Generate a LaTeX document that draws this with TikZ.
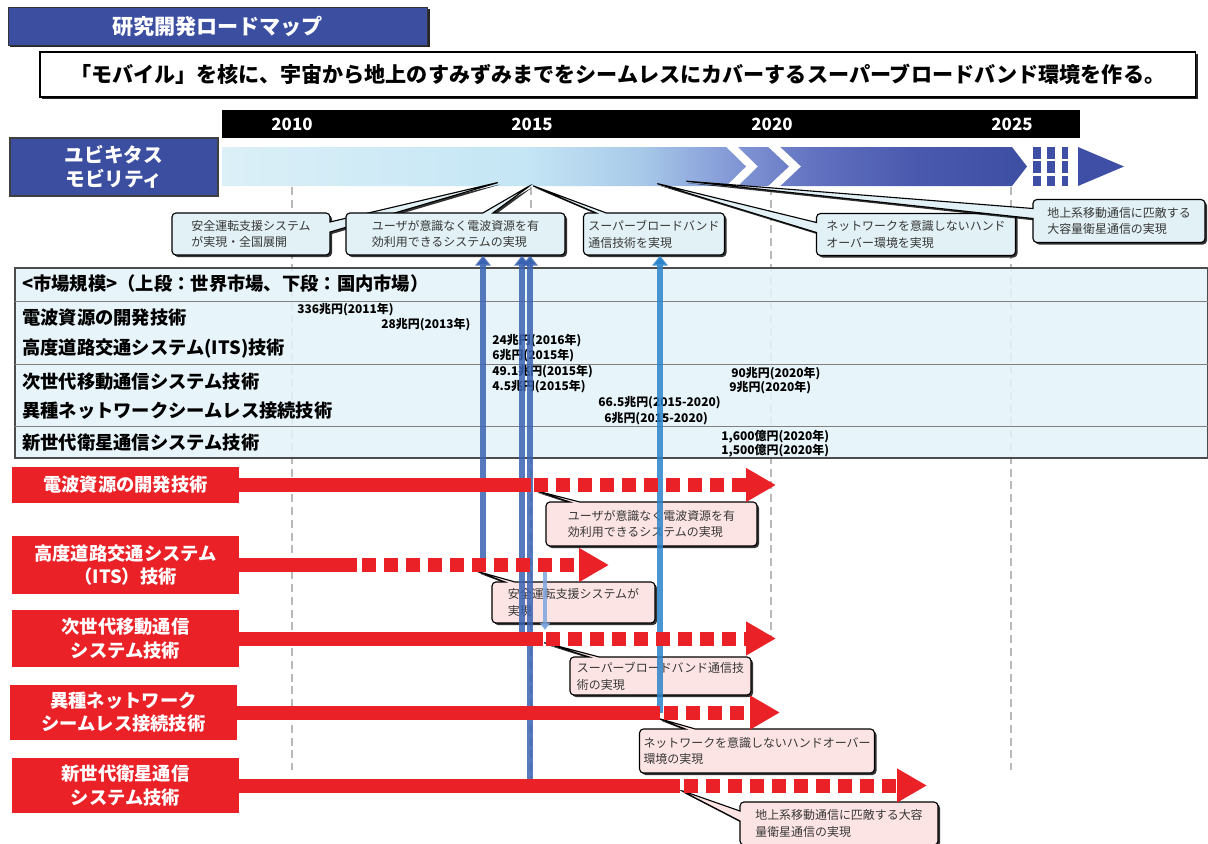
\documentclass[tikz,border=0pt]{standalone}
\usepackage{fontspec}
\setmainfont{Noto Sans CJK JP}
\usetikzlibrary{positioning}
\usetikzlibrary{shapes.callouts}
\usetikzlibrary{shadows}
\usetikzlibrary{arrows.meta}
\definecolor{titleblue}{RGB}{59,78,160}
\definecolor{marketbg}{RGB}{228,243,248}
\definecolor{noteblue}{RGB}{226,241,246}
\definecolor{notepink}{RGB}{253,228,228}
\definecolor{notetext}{RGB}{55,55,55}
\definecolor{techred}{RGB}{234,33,39}
\definecolor{linkblue}{RGB}{58,98,178}
\definecolor{linkcyan}{RGB}{44,132,202}
\definecolor{linklight}{RGB}{125,165,222}
\definecolor{bandend}{RGB}{62,79,165}
\pgfdeclarehorizontalshading{bandshade}{100bp}{%
  rgb(0bp)=(0.86,0.94,0.97);
  rgb(25bp)=(0.86,0.94,0.97);
  rgb(44bp)=(0.77,0.90,0.96);
  rgb(51bp)=(0.66,0.79,0.91);
  rgb(56bp)=(0.53,0.62,0.85);
  rgb(62bp)=(0.38,0.44,0.75);
  rgb(68bp)=(0.29,0.35,0.68);
  rgb(75bp)=(0.24,0.31,0.64);
  rgb(100bp)=(0.24,0.31,0.64)}
\newcommand\jpsize[2]{\fontsize{#1}{#2}\selectfont}

\begin{document}
\begin{tikzpicture}[
x=0.025cm, y=-0.025cm,
boxshadow/.style={drop shadow={shadow xshift=0.06cm,shadow yshift=-0.06cm,opacity=0.85,fill=black}},
titlebox/.style={anchor=north west, inner sep=0pt, outer sep=0pt, draw=black!80,
  fill=titleblue, text=white, font=\jpsize{15}{18}\bfseries, boxshadow},
mottobox/.style={anchor=north west, inner sep=0pt, outer sep=0pt, draw=black,
  line width=0.8pt, fill=white, font=\jpsize{15}{18}\bfseries, boxshadow},
yearlabel/.style={text=white, font=\jpsize{12}{14}\bfseries},
mobbox/.style={anchor=north west, inner sep=0pt, outer sep=0pt, draw=black!75,
  line width=1pt, fill=titleblue, text=white, align=center, font=\jpsize{14}{17}\bfseries},
chevron/.style={draw=white, line width=0.2cm, line join=miter},
gridline/.style={draw=gray!55, line width=0.06cm, dash pattern=on 0.2cm off 0.12cm},
marketbox/.style={anchor=north west, inner sep=0pt, outer sep=0pt, draw=black!70,
  line width=1.2pt, fill=marketbg, fill opacity=0.88},
rowsep/.style={draw=black!50, line width=0.6pt},
rowlabel/.style={anchor=west, inner sep=0pt, font=\jpsize{13}{15}\bfseries},
mktvalue/.style={anchor=west, inner sep=0pt, font=\jpsize{8.5}{10}\bfseries},
notebox/.style={rectangle callout, rounded corners=0.1cm, draw=black, line width=0.8pt,
  text=notetext, align=left, inner sep=0.1cm, font=\jpsize{8.5}{12},
  callout pointer width=0.25cm,
  drop shadow={shadow xshift=0.05cm,shadow yshift=-0.05cm,opacity=0.8,fill=black}},
topnote/.style={notebox, fill=noteblue},
lownote/.style={notebox, fill=notepink},
techbox/.style={anchor=north west, inner sep=0pt, outer sep=0pt, minimum width=5.675cm,
  fill=techred, text=white, align=center, font=\jpsize{13}{16.5}\bfseries},
techline/.style={draw=techred, line width=0.35cm},
techdash/.style={techline, dash pattern=on 0.35cm off 0.2cm,
  -{Triangle[length=0.75cm,width=0.8cm]}},
linkline/.style={draw=linkblue, line width=0.14cm, draw opacity=0.85,
  -{Triangle[length=0.25cm,width=0.38cm]}}
]
\useasboundingbox (0,0) rectangle (1208,843);

% heading
\node[titlebox, minimum width=10.475cm, minimum height=0.95cm] (title) at (8,7) {研究開発ロードマップ};
\node[mottobox, minimum width=28.875cm, minimum height=1.125cm] (motto) at (40,52)
  {「モバイル」を核に、宇宙から地上のすみずみまでをシームレスにカバーするスーパーブロードバンド環境を作る。};

% years
\fill[black] (222,110) rectangle (1080,138);
\foreach \yr [count=\i from 0] in {2010,2015,2020,2025}
  \node[yearlabel] (y\yr) at (292+240*\i,124) {\yr};

% ubiquitous mobility band
\node[mobbox, minimum width=5.2cm, minimum height=1.45cm] (mob) at (10,138) {ユビキタス\\モビリティ};
\shade[shading=bandshade] (222,147) -- (1012,147) -- (1027,166.5) -- (1012,186) -- (222,186) -- cycle;
\draw[chevron] (728,143) -- (752,166.5) -- (728,190);
\draw[chevron] (770,143) -- (795,166.5) -- (770,190);
\foreach \bx/\bw in {1037/0.2cm,1051/0.2cm,1065/0.15cm}
  \draw[draw=bandend, line width=\bw, dash pattern=on 0.3cm off 0.06cm] (\bx,147) -- (\bx,186);
\fill[bandend] (1078,147) -- (1124,166.5) -- (1078,186) -- cycle;

\foreach \gx/\gy in {292/770,531/778,771/640,1011/770}
  \draw[gridline] (\gx,187) -- (\gx,\gy);

% market size table
\node[marketbox, minimum width=29.825cm, minimum height=4.75cm] (market) at (15,268) {};
\foreach \sy in {301,364,426}
  \draw[rowsep] (15,\sy) -- (1208,\sy);
\node[rowlabel] (mhead) at (22,284) {<市場規模>（上段：世界市場、下段：国内市場）};
\node[rowlabel] (m1) at (22,318) {電波資源の開発技術};
\node[rowlabel] (m2) at (22,349) {高度道路交通システム(ITS)技術};
\node[rowlabel] (m3) at (22,382) {次世代移動通信システム技術};
\node[rowlabel] (m4) at (22,411) {異種ネットワークシームレス接続技術};
\node[rowlabel] (m5) at (22,443) {新世代衛星通信システム技術};
\node[mktvalue] (v1a) at (297,310) {336兆円(2011年)};
\node[mktvalue] (v1b) at (381,325) {28兆円(2013年)};
\node[mktvalue] (v2a) at (492,341) {24兆円(2016年)};
\node[mktvalue] (v2b) at (492,356) {6兆円(2015年)};
\node[mktvalue] (v3a) at (492,372) {49.1兆円(2015年)};
\node[mktvalue] (v3b) at (492,387) {4.5兆円(2015年)};
\node[mktvalue] (v3c) at (731,374) {90兆円(2020年)};
\node[mktvalue] (v3d) at (729,388) {9兆円(2020年)};
\node[mktvalue] (v4a) at (598,403) {66.5兆円(2015-2020)};
\node[mktvalue] (v4b) at (604,419) {6兆円(2015-2020)};
\node[mktvalue] (v5a) at (721,437) {1,600億円(2020年)};
\node[mktvalue] (v5b) at (721,451) {1,500億円(2020年)};

% goals on the band
\node[topnote, minimum width=3.95cm, minimum height=1.05cm, callout absolute pointer={(500,182)}]
  (c1) at (251,234) {安全運転支援システム\\が実現・全国展開};
\node[topnote, minimum width=5.475cm, minimum height=1.05cm, callout absolute pointer={(531,185)}]
  (c2) at (455.5,234) {ユーザが意識なく電波資源を有\\効利用できるシステムの実現};
\node[topnote, minimum width=3.525cm, minimum height=1.05cm, callout absolute pointer={(531,185)}]
  (c3) at (654,234) {スーパーブロードバンド\\通信技術を実現};
\node[topnote, minimum width=4.975cm, minimum height=1.05cm, callout absolute pointer={(655,183)}]
  (c4) at (916,234.5) {ネットワークを意識しないハンド\\オーバー環境を実現};
\node[topnote, minimum width=4.3cm, minimum height=1.075cm, callout absolute pointer={(684,181)}]
  (c5) at (1119,221) {地上系移動通信に匹敵する\\大容量衛星通信の実現};

% milestones of each technology
\node[lownote, minimum width=5.275cm, minimum height=1.1cm, callout absolute pointer={(533,490)}]
  (p1) at (651.5,524) {ユーザが意識なく電波資源を有\\効利用できるシステムの実現};
\node[lownote, minimum width=4.075cm, minimum height=1.025cm, callout absolute pointer={(476,571)}]
  (p2) at (573.5,602.5) {安全運転支援システムが\\実現};
\node[lownote, minimum width=4.525cm, minimum height=0.95cm, callout absolute pointer={(542,642)}]
  (p3) at (660.5,676) {スーパーブロードバンド通信技\\術の実現};
\node[lownote, minimum width=5.8cm, minimum height=1.1cm, callout absolute pointer={(657,718)}]
  (p4) at (757,751) {ネットワークを意識しないハンドオーバー\\環境の実現};
\node[lownote, minimum width=4.95cm, minimum height=1.075cm, callout absolute pointer={(680,790)}]
  (p5) at (839,823.5) {地上系移動通信に匹敵する大容\\量衛星通信の実現};

% links up to the goals
\coordinate (l1) at (483,565);
\coordinate (l2) at (522,638.5);
\coordinate (l3) at (530,785.5);
\coordinate (l4) at (660,712.5);
\coordinate (l5a) at (545,572);
\coordinate (l5b) at (545,630);
\draw[linkline] (l1) -- (l1 |- c2.south);
\draw[linkline] (l2) -- (l2 |- c2.south);
\draw[linkline] (l3) -- (l3 |- c2.south);
\draw[linkline, draw=linkcyan] (l4) -- (l4 |- c3.south);
\draw[linkline, draw=linklight, line width=0.08cm, -{Triangle[length=0.18cm,width=0.25cm]}] (l5a) -- (l5b);

% technologies
\node[techbox, minimum height=0.9cm] (t1) at (12,467) {電波資源の開発技術};
\node[techbox, minimum height=1.45cm] (t2) at (12,536) {高度道路交通システム\\（ITS）技術};
\node[techbox, minimum height=1.425cm] (t3) at (12,610) {次世代移動通信\\システム技術};
\node[techbox, minimum height=1.375cm] (t4) at (10,685) {異種ネットワーク\\シームレス接続技術};
\node[techbox, minimum height=1.375cm] (t5) at (12,758) {新世代衛星通信\\システム技術};
\coordinate (a1m) at (534,485);   \coordinate (a1e) at (776,485);
\coordinate (a2m) at (362,565);   \coordinate (a2e) at (609,565);
\coordinate (a3m) at (546,638.5); \coordinate (a3e) at (776,638.5);
\coordinate (a4m) at (664,712.5); \coordinate (a4e) at (780,712.5);
\coordinate (a5m) at (684,785.5); \coordinate (a5e) at (927,785.5);
\foreach \t/\s in {1/531,2/357,3/543,4/660,5/680}{
  \draw[techline] (t\t.east) -- (t\t.east -| \s,0);
  \draw[techdash] (a\t m) -- (a\t e);
}
\end{tikzpicture}
\end{document}
